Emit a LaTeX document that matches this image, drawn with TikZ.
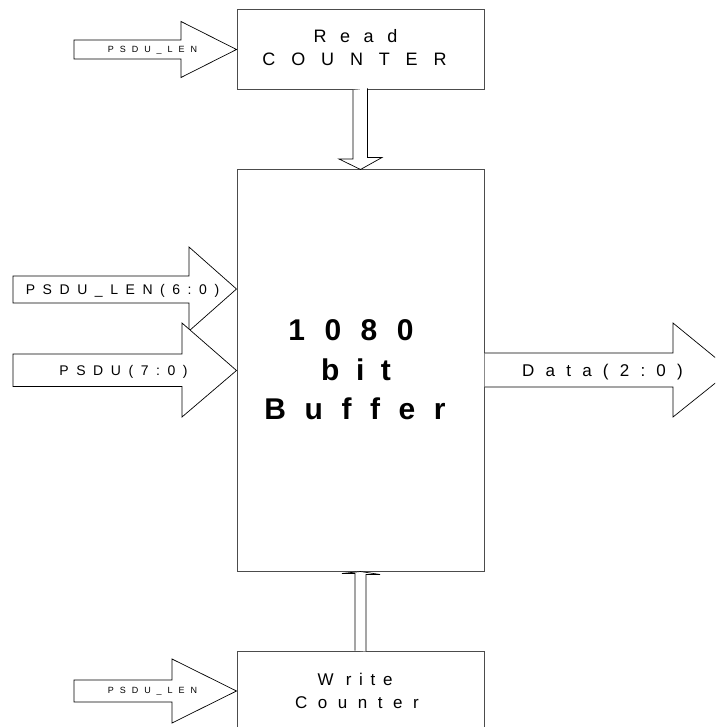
\documentclass[tikz,border=0pt]{standalone}
\usepackage{fontspec}
\setmainfont{Liberation Sans}
\newcommand\spc[2]{{\addfontfeature{LetterSpace=#1}#2}}
\tikzset{
  blk/.style={draw=black!70, line width=1pt, fill=white, inner sep=0pt, minimum width=247pt},
  barrow/.style={draw=black, line width=0.7pt, fill=white, line join=miter},
  txt/.style={anchor=base, inner sep=0pt},
}
\begin{document}
\begin{tikzpicture}[x=1pt,y=-1pt]
\useasboundingbox (0,0) rectangle (715,727);
\clip (0,0) rectangle (715,727);

% blocks
\node[blk, minimum height=80pt]  (read)  at (360.5,49.5)  {};
\node[blk, minimum height=401pt] (buf)   at (360.5,370.5) {};
\node[blk, minimum height=100pt] (write) at (360.5,701)   {};

% read counter -> buffer
\draw[barrow] (read.south) ++(-7.5,0) -- ++(0,69) -- ++(-14,0) -- (buf.north)
  -- ++(21.5,-12) -- ++(-14.5,0) -- ++(0,-69);
% write counter -> buffer
\draw[barrow] (write.north) ++(-5.5,0) -- ++(0,-77) -- ++(-13,0) -- (buf.south)
  -- ++(19.5,3) -- ++(-14,0) -- ++(0,77);

% length input of the read counter
\draw[barrow] (74,40) -- (181,40) -- (181,21.5) -- (read.west) -- (181,77.5)
  -- (181,59) -- (74,59) -- cycle;
% length input of the write counter
\coordinate (wtip) at (write.west |- 0,691);
\draw[barrow] (74,680) -- (172,680) -- (172,659) -- (wtip) -- (172,723)
  -- (172,702) -- (74,702) -- cycle;

% buffer inputs
\coordinate (ltip) at (buf.west |- 0,289);
\draw[barrow] (13,276) -- (189,276) -- (189,247) -- (ltip) -- (189,331)
  -- (189,303) -- (13,303) -- cycle;
\draw[barrow] (13,354) -- (182,354) -- (182,323) -- (buf.west) -- (182,417)
  -- (182,386.5) -- (13,386.5) -- cycle;

% buffer output
\draw[barrow] (buf.east |- 0,353) -- (673,353) -- (673,323) -- (731,370.5)
  -- (673,417) -- (673,387) -- (buf.east |- 0,387);

% texts
\node[txt, font=\fontsize{18}{18}\selectfont] (t1) at (355.5,43) {\spc{75}{Read}};
\node[txt, font=\fontsize{18}{18}\selectfont] (t2) at (354.5,66) {\spc{88}{COUNTER}};
\node[txt, font=\fontsize{17}{17}\selectfont] (t3) at (355,685) {\spc{45}{W rite}};
\node[txt, font=\fontsize{17}{17}\selectfont] (t4) at (357,708) {\spc{62}{Counter}};

\node[txt, font=\bfseries\fontsize{30}{30}\selectfont] (b1) at (351,340) {\spc{65}{1080}};
\node[txt, font=\bfseries\fontsize{30}{30}\selectfont] (b2) at (356,380) {\spc{55}{bit}};
\node[txt, font=\bfseries\fontsize{30}{30}\selectfont] (b3) at (355,419) {\spc{62}{Buffer}};

\node[txt, font=\fontsize{9}{9}\selectfont]   (s1) at (152.5,52.3) {\spc{66}{PSDU\_LEN}};
\node[txt, font=\fontsize{9}{9}\selectfont]   (s2) at (152.5,693.3) {\spc{66}{PSDU\_LEN}};
\node[txt, font=\fontsize{14}{14}\selectfont] (s3) at (122.5,294) {\spc{54}{PSDU\_LEN(6:0)}};
\node[txt, font=\fontsize{14}{14}\selectfont] (s4) at (123.5,375.7) {\spc{54}{PSDU(7:0)}};
\node[txt, font=\fontsize{17}{17}\selectfont] (s5) at (602.5,376.7) {\spc{66}{Data(2:0)}};
\end{tikzpicture}
\end{document}
